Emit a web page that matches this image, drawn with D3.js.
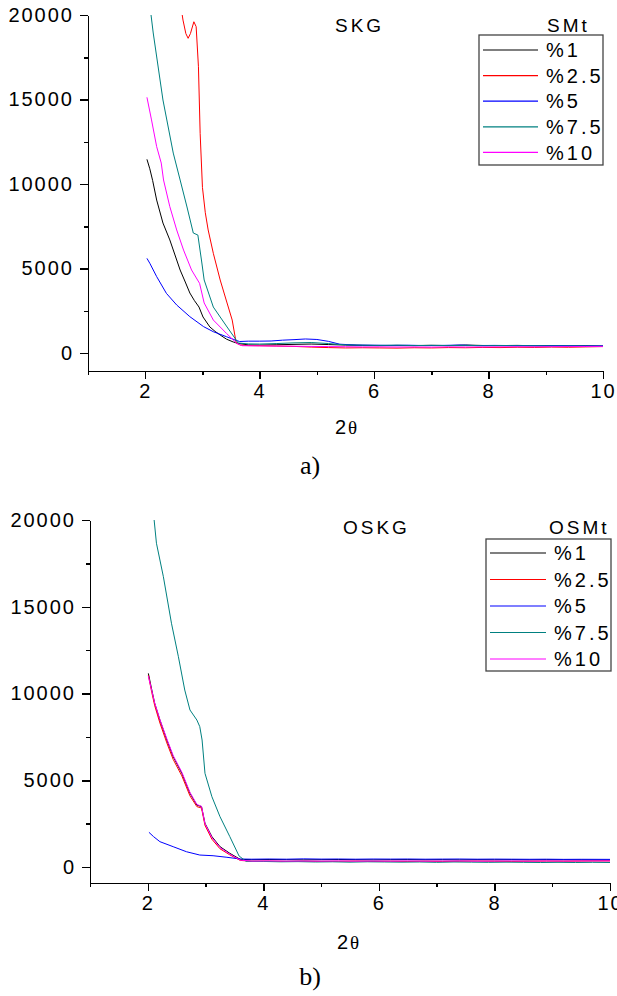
<!DOCTYPE html>
<html>
<head>
<meta charset="utf-8">
<script src="https://cdn.jsdelivr.net/npm/d3@7"></script>
<style>
body { margin: 0; background: #fff; }
text { font-family: Arial, "Liberation Sans", sans-serif; fill: #000; }
.axis path, .axis line { stroke: #000; stroke-width: 1.5; shape-rendering: crispEdges; }
.axis text { font-size: 20px; letter-spacing: 2px; }
</style>
</head>
<body>
<div id="chart"></div>
<script>
var width = 617, height = 996;

var labels = ["%1", "%2.5", "%5", "%7.5", "%10"];
var colors = ["#000000", "#ff0000", "#0000ff", "#008080", "#ff00ff"];

var yTicks = [0, 5000, 10000, 15000, 20000];
var yMinor = [2500, 7500, 12500, 17500];
var xTicks = [2, 4, 6, 8, 10];
var xMinor = [1, 3, 5, 7, 9];

// a) SKG / SMt  — [2theta, intensity]
var skg1 = [[2.03,11460],[2.08,10900],[2.13,10200],[2.20,9050],[2.31,7690],[2.43,6690],[2.52,5800],[2.61,4910],[2.70,4200],[2.78,3550],[2.86,3100],[2.94,2720],[3.01,2130],[3.13,1540],[3.22,1280],[3.31,1065],[3.42,820],[3.54,650],[3.62,570],
  [3.8,480],[4.0,470],[4.3,490],[4.6,510],[4.9,530],[5.2,500],[5.5,470],[5.8,450],[6.1,440],[6.4,450],[6.7,440],[7.0,455],[7.3,440],[7.6,470],[7.9,445],[8.2,440],[8.5,450],[8.8,430],[9.1,440],[9.4,420],[9.7,430],[10.0,410]];
var skg25 = [[2.62,20600],[2.66,19700],[2.71,18900],[2.75,18620],[2.79,18900],[2.85,19600],[2.89,19310],[2.93,16940],[2.96,13000],[3.00,9800],[3.05,8300],[3.10,7280],[3.19,5900],[3.31,4320],[3.43,2960],[3.52,1950],[3.59,590],[3.66,470],
  [3.8,440],[4.0,430],[4.3,410],[4.6,390],[4.9,350],[5.2,320],[5.5,300],[5.8,310],[6.1,300],[6.4,290],[6.7,310],[7.0,300],[7.3,320],[7.6,310],[7.9,330],[8.2,320],[8.5,340],[8.8,330],[9.1,350],[9.4,340],[9.7,360],[10.0,380]];
var skg5 = [[2.03,5600],[2.08,5310],[2.20,4520],[2.37,3530],[2.55,2840],[2.78,2150],[3.02,1560],[3.19,1260],[3.42,965],[3.57,770],[3.65,680],
  [3.8,700],[4.0,700],[4.2,710],[4.4,760],[4.6,790],[4.8,830],[5.0,800],[5.2,690],[5.4,520],[5.7,470],[6.0,460],[6.3,450],[6.6,460],[6.9,440],[7.2,450],[7.5,470],[7.8,440],[8.1,450],[8.4,440],[8.7,440],[9.0,430],[9.3,440],[9.6,420],[10.0,420]];
var skg75 = [[2.08,20600],[2.14,18935],[2.31,14970],[2.49,11830],[2.61,10236],[2.73,8640],[2.84,7100],[2.92,6980],[2.99,5325],[3.03,4320],[3.19,2720],[3.43,1540],[3.59,770],[3.62,590],
  [3.8,540],[4.0,530],[4.3,560],[4.6,600],[4.9,620],[5.2,560],[5.5,480],[5.8,460],[6.1,450],[6.4,460],[6.7,440],[7.0,450],[7.3,440],[7.6,450],[7.9,430],[8.2,440],[8.5,430],[8.8,430],[9.1,420],[9.4,420],[9.7,410],[10.0,400]];
var skg10 = [[2.03,15130],[2.11,13790],[2.20,12210],[2.28,11240],[2.32,10236],[2.43,8660],[2.55,7280],[2.67,6090],[2.81,4910],[2.95,4120],[3.03,2960],[3.19,1950],[3.42,1160],[3.60,570],
  [3.7,430],[4.0,420],[4.3,410],[4.6,400],[4.9,390],[5.2,380],[5.5,370],[5.8,360],[6.1,365],[6.4,355],[6.7,360],[7.0,350],[7.3,365],[7.6,355],[7.9,360],[8.2,365],[8.5,370],[8.8,365],[9.1,375],[9.4,380],[9.7,385],[10.0,390]];

// b) OSKG / OSMt
var oskg1 = [[2.01,11160],[2.07,10200],[2.12,9430],[2.21,8470],[2.33,7320],[2.44,6360],[2.59,5400],[2.73,4250],[2.85,3570],[2.93,3480],[2.99,2520],[3.11,1750],[3.25,1170],[3.42,790],[3.60,440],
  [3.8,420],[4.1,430],[4.4,420],[4.7,410],[5.0,420],[5.3,430],[5.6,420],[5.9,410],[6.2,420],[6.5,425],[6.8,415],[7.1,420],[7.4,410],[7.7,420],[8.0,415],[8.3,420],[8.6,410],[8.9,420],[9.2,415],[9.5,410],[10.0,400]];
var oskg25 = [[2.01,11050],[2.07,10050],[2.12,9300],[2.21,8300],[2.33,7150],[2.44,6200],[2.59,5250],[2.73,4100],[2.85,3480],[2.93,3400],[2.99,2400],[3.11,1600],[3.25,1050],[3.42,700],[3.60,380],
  [3.8,330],[4.1,340],[4.4,320],[4.7,330],[5.0,320],[5.3,330],[5.6,340],[5.9,320],[6.2,330],[6.5,320],[6.8,330],[7.1,320],[7.4,330],[7.7,340],[8.0,330],[8.3,320],[8.6,330],[8.9,340],[9.2,330],[9.5,340],[10.0,350]];
var oskg5 = [[2.02,2000],[2.10,1750],[2.21,1460],[2.44,1170],[2.67,880],[2.90,690],[3.13,650],[3.37,560],[3.60,460],
  [3.8,450],[4.1,460],[4.4,450],[4.7,470],[5.0,455],[5.3,460],[5.6,450],[5.9,460],[6.2,455],[6.5,460],[6.8,450],[7.1,455],[7.4,460],[7.7,450],[8.0,455],[8.3,450],[8.6,445],[8.9,450],[9.2,440],[9.5,445],[10.0,440]];
var oskg75 = [[2.11,20000],[2.15,18660],[2.27,16730],[2.41,14050],[2.53,12120],[2.64,10200],[2.73,9050],[2.85,8470],[2.90,8090],[2.94,7320],[2.99,5400],[3.11,4050],[3.25,2900],[3.42,1750],[3.58,635],
  [3.7,330],[4.0,320],[4.3,300],[4.6,310],[4.9,290],[5.2,300],[5.5,280],[5.8,300],[6.1,290],[6.4,280],[6.7,290],[7.0,270],[7.3,290],[7.6,280],[7.9,270],[8.2,280],[8.5,270],[8.8,260],[9.1,270],[9.4,260],[9.7,270],[10.0,260]];
var oskg10 = [[2.01,11000],[2.07,10150],[2.12,9450],[2.21,8500],[2.33,7380],[2.44,6420],[2.59,5460],[2.73,4300],[2.85,3600],[2.93,3500],[2.99,2500],[3.11,1700],[3.25,1120],[3.42,740],[3.60,400],
  [3.8,340],[4.1,350],[4.4,340],[4.7,345],[5.0,340],[5.3,350],[5.6,340],[5.9,345],[6.2,340],[6.5,350],[6.8,340],[7.1,345],[7.4,350],[7.7,340],[8.0,345],[8.3,350],[8.6,340],[8.9,350],[9.2,345],[9.5,350],[10.0,355]];

var panels = [
  { id: "a", series: [skg1, skg25, skg5, skg75, skg10], xRange: [88, 603], yRange: [371, 15], yMin: -1065,
    title: "SKG", titleX: 335, right: "SMt", rightX: 547, textY: 32,
    legend: { x: 479, y: 35, w: 124, h: 130, first: 50, step: 25.6, l0: 483, l1: 538 },
    xLabelX: 346, xLabelY: 434, caption: "a)", capY: 474 },
  { id: "b", series: [oskg1, oskg25, oskg5, oskg75, oskg10], xRange: [90, 610], yRange: [883, 520], yMin: -922,
    title: "OSKG", titleX: 343, right: "OSMt", rightX: 549, textY: 534,
    legend: { x: 486, y: 539, w: 125, h: 132, first: 553, step: 26.5, l0: 490, l1: 546 },
    xLabelX: 348, xLabelY: 949, caption: "b)", capY: 985 }
];

var svg = d3.select("#chart")
  .append("svg")
    .attr("width", width)
    .attr("height", height);

panels.forEach(function(p) {
  var x = d3.scaleLinear().domain([1, 10]).range(p.xRange);
  var y = d3.scaleLinear().domain([p.yMin, 20000]).range(p.yRange);
  var g = svg.append("g");

  g.append("clipPath").attr("id", "clip-" + p.id)
    .append("rect")
      .attr("x", p.xRange[0]).attr("y", p.yRange[1])
      .attr("width", p.xRange[1] - p.xRange[0])
      .attr("height", p.yRange[0] - p.yRange[1]);

  var line = d3.line()
    .x(function(d) { return x(d[0]); })
    .y(function(d) { return y(d[1]); });

  g.append("g").attr("clip-path", "url(#clip-" + p.id + ")")
    .selectAll("path")
      .data(p.series)
    .enter().append("path")
      .attr("d", line)
      .attr("fill", "none")
      .attr("stroke", function(d, i) { return colors[i]; })
      .attr("stroke-width", 1);

  // axes
  g.append("g").attr("class", "axis")
    .attr("transform", "translate(" + p.xRange[0] + ",0)")
    .call(d3.axisLeft(y).tickValues(yTicks).tickSize(8).tickSizeOuter(0).tickPadding(6).tickFormat(d3.format("d")));
  g.append("g").attr("class", "axis")
    .attr("transform", "translate(" + p.xRange[0] + ",0)")
    .call(d3.axisLeft(y).tickValues(yMinor).tickSize(4).tickSizeOuter(0).tickFormat(""))
    .select(".domain").remove();

  g.append("g").attr("class", "axis")
    .attr("transform", "translate(0," + p.yRange[0] + ")")
    .call(d3.axisBottom(x).tickValues(xTicks).tickSize(8).tickSizeOuter(0).tickPadding(5));
  g.append("g").attr("class", "axis")
    .attr("transform", "translate(0," + p.yRange[0] + ")")
    .call(d3.axisBottom(x).tickValues(xMinor).tickSize(4).tickSizeOuter(0).tickFormat(""))
    .select(".domain").remove();

  // titles
  g.append("text").attr("x", p.titleX).attr("y", p.textY)
    .style("font-size", "19px").style("letter-spacing", "3px").text(p.title);
  g.append("text").attr("x", p.rightX).attr("y", p.textY)
    .style("font-size", "19px").style("letter-spacing", "3px").text(p.right);

  // legend
  var L = p.legend;
  g.append("rect")
    .attr("x", L.x).attr("y", L.y).attr("width", L.w).attr("height", L.h)
    .attr("fill", "#fff").attr("stroke", "#444").attr("stroke-width", 1.3);
  var row = g.selectAll(".leg")
      .data(labels)
    .enter().append("g")
      .attr("class", "leg")
      .attr("transform", function(d, i) { return "translate(0," + (L.first + i * L.step) + ")"; });
  row.append("line")
    .attr("x1", L.l0).attr("x2", L.l1)
    .attr("stroke", function(d, i) { return colors[i]; })
    .attr("stroke-width", 1.2);
  row.append("text")
    .attr("x", L.l1 + 8).attr("dy", "0.36em")
    .style("font-size", "20px").style("letter-spacing", "3px")
    .text(function(d) { return d; });

  // x label and caption
  var xl = g.append("text").attr("x", p.xLabelX).attr("y", p.xLabelY)
    .attr("text-anchor", "middle").style("font-size", "20px");
  xl.append("tspan").text("2");
  xl.append("tspan").style("font-family", "'Liberation Serif', 'DejaVu Serif', serif").style("font-size", "19px").attr("dx", 2).text("θ");

  g.append("text").attr("x", 310).attr("y", p.capY)
    .attr("text-anchor", "middle")
    .style("font-family", "'Liberation Serif', 'Times New Roman', serif")
    .style("font-size", "26px")
    .text(p.caption);
});
</script>
</body>
</html>
